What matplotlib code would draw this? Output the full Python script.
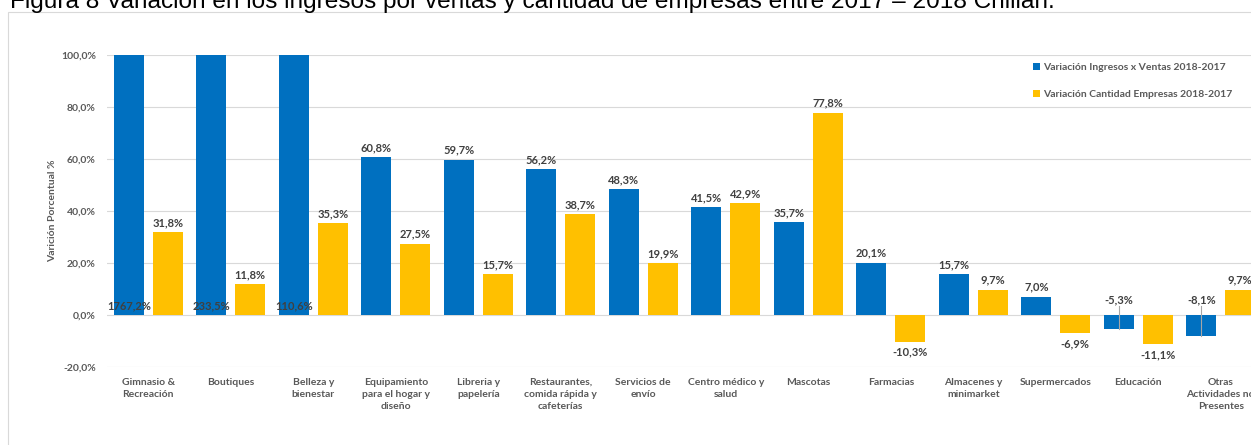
import numpy as np
import matplotlib
matplotlib.use('Agg')
import matplotlib.pyplot as plt
from matplotlib.patches import Rectangle

categorias = ['Gimnasio &\nRecreación', 'Boutiques', 'Belleza y\nbienestar',
              'Equipamiento\npara el hogar y\ndiseño', 'Libreria y\npapelería',
              'Restaurantes,\ncomida rápida y\ncafeterías', 'Servicios de\nenvío',
              'Centro médico y\nsalud', 'Mascotas', 'Farmacias',
              'Almacenes y\nminimarket', 'Supermercados', 'Educación',
              'Otras\nActividades no\nPresentes']
var_ingresos = [1767.2, 233.5, 110.6, 60.8, 59.7, 56.2, 48.3, 41.5, 35.7,
                20.1, 15.7, 7.0, -5.3, -8.1]
var_empresas = [31.8, 11.8, 35.3, 27.5, 15.7, 38.7, 19.9, 42.9, 77.8,
                -10.3, 9.7, -6.9, -11.1, 9.7]
y_ticks = [-20, 0, 20, 40, 60, 80, 100]

AZUL = '#0070C0'
AMARILLO = '#FFC000'
GRIS_TXT = '#595959'
GRIS_LBL = '#404040'

plt.rcParams['font.family'] = ['Lato', 'DejaVu Sans']

W, H = 1251, 445
fig = plt.figure(figsize=(W / 100, H / 100), dpi=100)

# titulo, cortado por el borde superior
fig.text(10 / W, 1 - 8 / H,
         'Figura 8 Variación en los ingresos por ventas y cantidad de empresas entre 2017 – 2018 Chillán.',
         family=['Liberation Sans', 'DejaVu Sans'], fontsize=17.6, color='black',
         ha='left', va='baseline')

# marco del grafico
fig.patches.append(Rectangle((8 / W, -0.1), 1.2, 1 - 12 / H + 0.1,
                             transform=fig.transFigure, fill=False,
                             edgecolor='#D9D9D9', linewidth=0.8))

ax = fig.add_axes([107 / W, 78 / H, 1155 / W, 312 / H])
ax.set_xlim(-0.5, len(categorias) - 0.5)
ax.set_ylim(-20, 100)
for s in ax.spines.values():
    s.set_visible(False)
ax.set_yticks(y_ticks)
ax.set_yticklabels([f'{t:.1f}'.replace('.', ',') + '%' for t in y_ticks])
ax.tick_params(axis='both', length=0, labelsize=7.5, labelcolor=GRIS_TXT)
ax.tick_params(axis='y', pad=8)
ax.tick_params(axis='x', pad=8)
for lab in ax.get_yticklabels():
    lab.set_fontweight('bold')
ax.yaxis.grid(True, color='#D9D9D9', linewidth=0.8)
ax.set_axisbelow(True)

x = np.arange(len(categorias))
off, ancho = 0.236, 0.36
ax.bar(x - off, np.minimum(var_ingresos, 100), ancho, color=AZUL,
       label='Variación Ingresos x Ventas 2018-2017', zorder=2)
ax.bar(x + off, var_empresas, ancho, color=AMARILLO,
       label='Variación Cantidad Empresas 2018-2017', zorder=2)

ax.set_xticks(x)
ax.set_xticklabels(categorias, fontsize=7.5, fontweight='bold', color=GRIS_TXT,
                   linespacing=1.4, va='top')

ax.set_ylabel('Varición Porcentual %', fontsize=7.5, fontweight='bold',
              color=GRIS_TXT)
ax.yaxis.set_label_coords(-50 / 1155, 0.5)


def fmt(v):
    return f'{v:.1f}'.replace('.', ',') + '%'


kw = dict(textcoords='offset pixels', ha='center', fontsize=8,
          fontweight='bold', color=GRIS_LBL, zorder=4)
for xi, v in zip(x - off, var_ingresos):
    if v > 100:
        # barra recortada: el valor va junto a la base
        ax.annotate(fmt(v), (xi, 0), xytext=(0, 4), va='bottom', **kw)
    elif v >= 0:
        ax.annotate(fmt(v), (xi, v), xytext=(0, 4), va='bottom', **kw)
    else:
        ax.annotate(fmt(v), (xi, 0), xytext=(0, 10), va='bottom', **kw)
        ax.plot([xi, xi], [v, 3.6], color='#A6A6A6', linewidth=0.8, zorder=3)
for xi, v in zip(x + off, var_empresas):
    if v >= 0:
        ax.annotate(fmt(v), (xi, v), xytext=(0, 4), va='bottom', **kw)
    else:
        ax.annotate(fmt(v), (xi, v), xytext=(0, -5), va='top', **kw)

leg = ax.legend(loc='upper left', bbox_to_anchor=(1024 / W, 1 - 54 / H),
                bbox_transform=fig.transFigure, frameon=False, fontsize=7.5,
                handlelength=0.6, handleheight=0.6, handletextpad=0.35,
                labelspacing=1.7, labelcolor=GRIS_TXT)
for t in leg.get_texts():
    t.set_fontweight('bold')

fig.savefig('out.png', dpi=100)
